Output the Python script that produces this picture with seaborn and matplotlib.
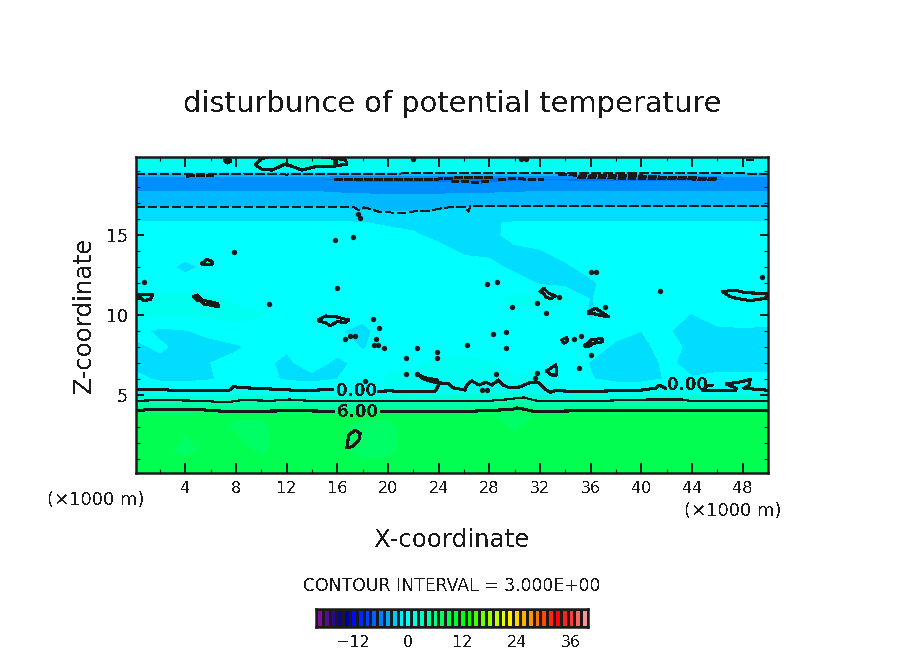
import numpy as np
import matplotlib
matplotlib.use('Agg')
import matplotlib.pyplot as plt
from matplotlib.colors import LinearSegmentedColormap
import seaborn as sns

# Field: one row per height, one value per x position
x_grid = [0, 2, 4, 6, 8, 10, 12, 14, 16, 18, 20, 22, 24, 26, 28, 30, 32, 34, 36, 38, 40, 42, 44, 46, 48, 50]
z_grid = [0.125, 1.5, 3, 3.7, 3.98, 4.6, 5.25, 6, 7, 8, 9, 10, 11, 12, 13, 14, 15, 15.75, 16.0, 16.7,
          17.3, 17.8, 18.2, 18.5, 18.85, 19.05, 19.4, 19.875]
theta = [
    [8.2, 8.2, 8.2, 8.2, 8.2, 8.2, 8.2, 8.2, 8.2, 8.2, 8.2, 8.2, 8.2, 8.2, 8.2, 8.2, 8.2, 8.2, 8.2, 8.2, 8.2, 8.2, 8.2, 8.2, 8.2, 8.2],
    [8.0, 7.8, 7.2, 7.8, 8.0, 7.3, 8.0, 8.0, 7.8, 7.2, 7.2, 8.0, 8.0, 8.0, 8.0, 7.8, 8.0, 8.0, 8.0, 8.0, 8.0, 8.0, 8.0, 8.0, 8.0, 8.0],
    [7.9, 7.8, 7.6, 7.9, 7.3, 7.3, 7.9, 7.9, 7.6, 7.3, 7.3, 7.9, 7.9, 7.9, 7.8, 7.4, 7.9, 7.9, 7.9, 7.9, 7.9, 7.9, 7.9, 7.9, 7.9, 7.9],
    [7.6, 7.6, 7.6, 7.6, 7.6, 7.6, 7.6, 7.6, 7.6, 7.6, 7.6, 7.6, 7.6, 7.6, 7.6, 7.0, 7.6, 7.6, 7.6, 7.6, 7.6, 7.6, 7.6, 7.6, 7.6, 7.6],
    [6.0, 6.3, 6.3, 6.0, 6.0, 6.0, 6.0, 6.0, 6.0, 6.0, 6.0, 6.0, 6.0, 6.0, 6.0, 6.6, 6.0, 6.0, 6.0, 6.0, 6.0, 6.0, 6.0, 6.0, 6.0, 6.0],
    [3.0, 3.0, 3.0, 3.0, 3.0, 3.2, 3.0, 3.0, 3.0, 3.0, 3.0, 3.0, 3.0, 3.0, 3.0, 3.6, 3.0, 3.0, 3.0, 3.0, 3.2, 3.2, 3.0, 3.0, 3.0, 3.0],
    [0.0, 0.0, 0.0, 0.0, 0.3, 0.0, 0.0, 0.0, 0.0, 0.0, 0.0, 0.0, 0.3, 0.6, 0.8, 0.8, 0.3, 0.0, 0.0, 0.0, 0.0, 0.2, 0.2, 0.0, 0.4, 0.0],
    [-1.0, -1.8, -2.0, -1.6, -1.0, -1.0, -1.7, -2.0, -1.5, -0.8, 0.2, 0.4, 0.5, 0.5, 0.4, 0.4, 0.3, -0.2, -1.4, -2.0, -2.0, -1.4, -1.4, -1.0, -1.0, -1.0],
    [-2.0, -2.0, -2.2, -1.5, -1.0, -1.2, -1.8, -0.8, -1.9, -1.0, -0.5, -0.2, 0.2, 0.3, 0.2, -1.5, -0.3, -0.6, -1.6, -2.2, -2.2, -1.2, -2.0, -2.2, -2.2, -2.2],
    [-1.9, -1.2, -2.2, -2.2, -1.7, -1.0, -1.3, -0.8, -0.8, -1.6, -0.9, -0.6, -0.4, -0.4, -1.5, -0.9, -0.5, -0.8, -0.8, -1.8, -1.9, -0.9, -1.9, -2.2, -2.2, -2.2],
    [-0.9, -1.9, -1.6, -0.9, -0.6, -0.4, -0.5, -1.0, -1.4, -1.8, -0.9, -0.7, -0.7, -0.7, -0.8, -0.9, -0.9, -0.9, -1.0, -1.0, -1.5, -1.4, -1.9, -1.9, -1.7, -1.7],
    [0.3, 0.2, 0.2, 0.2, 0.4, 0.1, -0.4, -0.6, -0.8, -1.2, -0.8, -0.6, -0.4, -0.4, -0.2, -0.4, -0.2, -0.5, -1.7, -0.8, -0.7, -0.9, -1.6, -0.6, -0.8, -1.0],
    [0.3, 0.3, 0.3, 0.2, -0.2, -0.7, -0.8, -0.9, -0.8, -0.8, -0.6, -0.5, -0.5, -0.3, -0.2, 0.2, 0.3, 0.2, -1.6, -0.6, -0.8, -0.8, -0.6, -0.2, 0.2, 0.2],
    [-0.8, -0.7, -0.7, -0.7, -0.7, -0.6, -0.6, -0.7, -0.7, -0.7, -0.7, -0.6, -0.3, -0.2, -0.3, -0.6, -1.7, -2.0, -1.8, -0.6, -0.7, -0.7, -0.7, -0.7, -0.7, -0.7],
    [-0.7, -0.8, -2.0, -0.9, -0.7, -0.7, -0.7, -0.7, -0.7, -0.7, -0.7, -0.7, -0.7, -0.7, -0.9, -2.0, -2.0, -1.8, -0.8, -0.7, -1.5, -0.8, -0.7, -0.7, -0.7, -0.7],
    [-0.7, -0.7, -0.7, -0.7, -0.7, -0.7, -0.7, -0.7, -0.7, -0.7, -0.7, -0.7, -0.9, -1.8, -2.0, -1.9, -1.6, -0.8, -0.7, -0.7, -0.7, -0.7, -0.7, -0.7, -0.7, -0.7],
    [-0.7, -0.7, -0.7, -0.7, -0.7, -0.7, -0.7, -0.7, -0.7, -0.8, -0.8, -1.3, -2.0, -2.1, -2.0, -0.9, -0.7, -0.7, -0.7, -0.7, -0.7, -0.7, -0.7, -0.7, -0.7, -0.7],
    [-0.9, -0.9, -0.9, -0.9, -0.9, -0.9, -0.9, -0.9, -0.9, -1.4, -1.8, -1.9, -2.0, -2.0, -1.8, -1.2, -0.9, -0.9, -0.9, -0.9, -0.9, -0.9, -0.9, -0.9, -0.9, -0.9],
    [-2.2, -2.2, -2.2, -2.2, -2.2, -2.2, -2.2, -2.2, -2.2, -2.3, -2.4, -2.5, -2.4, -2.3, -2.2, -2.2, -2.2, -2.2, -2.2, -2.2, -2.2, -2.2, -2.2, -2.2, -2.2, -2.2],
    [-3.0, -3.0, -3.0, -3.0, -3.0, -3.0, -3.0, -3.0, -3.0, -3.2, -3.3, -3.3, -3.2, -3.0, -3.0, -3.0, -3.0, -3.0, -3.0, -3.0, -3.0, -3.0, -3.0, -3.0, -3.0, -3.0],
    [-3.8, -3.8, -3.8, -3.8, -3.8, -3.8, -3.8, -3.8, -3.9, -4.0, -4.1, -4.1, -4.0, -3.9, -3.8, -3.8, -3.8, -3.8, -3.8, -3.8, -3.8, -3.8, -3.8, -3.8, -3.8, -3.8],
    [-4.6, -4.6, -4.6, -4.6, -4.6, -4.6, -4.6, -4.6, -4.8, -4.9, -5.0, -5.0, -5.0, -4.9, -4.9, -4.8, -4.6, -4.6, -4.6, -4.6, -4.6, -4.6, -4.6, -4.6, -4.6, -4.6],
    [-5.3, -5.3, -5.3, -5.3, -5.3, -5.3, -5.3, -5.3, -5.6, -5.7, -5.8, -5.8, -5.8, -5.8, -5.7, -5.5, -5.4, -5.4, -5.5, -5.5, -5.5, -5.5, -5.5, -5.4, -5.3, -5.3],
    [-5.8, -5.9, -6.0, -6.0, -5.9, -5.8, -5.8, -5.9, -6.4, -6.6, -6.7, -6.7, -6.7, -6.8, -6.8, -6.5, -6.3, -6.4, -6.6, -6.7, -6.7, -6.7, -6.7, -6.3, -5.9, -5.8],
    [-3.0, -3.0, -3.0, -3.0, -3.0, -3.0, -3.0, -3.0, -3.0, -3.0, -3.0, -3.0, -3.0, -3.0, -3.0, -3.0, -3.0, -3.0, -3.0, -3.0, -3.0, -3.0, -3.0, -3.0, -3.0, -3.0],
    [-0.2, -0.2, -0.2, -0.2, -0.2, -0.2, -0.2, -0.2, -0.2, -0.2, -0.2, -0.2, -0.2, -0.2, -0.2, -0.2, -0.2, -0.2, -0.2, -0.2, -0.2, -0.2, -0.2, -0.2, -0.2, -0.2],
    [0.6, 0.6, 0.6, 0.6, 0.6, 1.0, 1.9, 2.0, 1.6, 0.6, 0.6, 0.6, 0.6, 0.6, 0.6, 0.6, 0.6, 0.6, 0.6, 0.6, 0.6, 0.6, 0.6, 0.6, 0.6, 0.6],
    [0.7, 0.7, 0.7, 0.7, 0.7, 1.0, 2.0, 2.0, 1.7, 0.7, 0.7, 0.7, 0.7, 0.7, 0.7, 0.7, 0.7, 0.7, 0.7, 0.7, 0.7, 0.7, 0.7, 0.7, 0.7, 0.7],
]

# Contour lines
zero_left_x = [0.1, 0.97, 1.63, 3.74, 7.42, 7.81, 8.47, 11.4, 13.2, 15.6]
zero_left_z = [5.31, 5.37, 5.35, 5.27, 5.27, 5.52, 5.46, 5.35, 5.27, 5.35]
zero_mid_x = [19.26, 20.3, 20.57, 23.7, 24.0, 23.9, 22.9, 22.4, 22.7, 23.5, 24.0, 24.8, 25.2, 25.6, 26.1, 26.2, 26.6, 27.2,
              27.7, 28.2, 28.7, 29.1, 29.5, 30.3, 31.2, 31.9, 32.3, 32.8, 33.2, 35.3, 40.0, 41.1, 41.4, 41.9]
zero_mid_z = [5.23, 5.27, 5.21, 5.21, 5.62, 5.94, 6.08, 6.25, 6.04, 5.83, 5.77, 5.69, 5.42, 5.38, 5.31, 5.62, 5.88, 5.62,
              5.8, 5.62, 5.94, 5.62, 5.48, 5.48, 5.77, 5.77, 5.42, 5.17, 5.27, 5.21, 5.31, 5.42, 5.62, 5.42]
zero_right_x = [45.6, 45.2, 44.8, 47.4, 47.5, 46.7, 47.9, 48.6, 48.5, 48.1, 49.8, 50.0]
zero_right_z = [5.62, 5.56, 5.27, 5.27, 5.42, 5.69, 5.83, 5.98, 5.62, 5.42, 5.31, 5.31]
three_x = [0.1, 2.16, 5.3, 7.16, 8.47, 10.8, 12.2, 13.7, 25.6, 27.4, 29.3, 30.7, 31.5, 32.1, 35.3, 38.7, 40.6, 43.2, 44.0, 49.8, 50.0]
three_z = [4.64, 4.68, 4.64, 4.54, 4.68, 4.64, 4.72, 4.64, 4.6, 4.6, 4.72, 4.85, 4.68, 4.6, 4.6, 4.68, 4.72, 4.72, 4.62, 4.64, 4.64]
six_left_x = [0.1, 1.63, 4.5, 7.42, 12.7, 15.7]
six_left_z = [4.02, 4.12, 4.12, 3.96, 4.02, 3.98]
six_right_x = [19.5, 25.6, 27.7, 29.8, 30.2, 30.8, 31.6, 37.9, 43.2, 48.5, 50.0]
six_right_z = [3.98, 3.96, 4.02, 4.1, 4.19, 4.1, 3.96, 4.06, 4.02, 4.02, 4.02]

loops = [
    ([16.76, 16.9, 17.4, 17.8, 17.7, 17.15, 16.76], [1.77, 2.5, 2.81, 2.6, 2.19, 1.77, 1.7]),
    ([9.53, 10.05, 10.84, 11.9, 13.2, 14.26, 15.84, 16.63, 16.76, 15.84, 14.26, 13.2, 11.9, 10.84, 10.05, 9.53],
     [19.38, 19.79, 19.92, 19.92, 19.92, 19.92, 19.79, 19.69, 19.44, 19.31, 19.27, 19.06, 19.44, 19.06, 19.1, 19.38]),
    ([15.84, 15.84], [19.79, 19.31]),
    ([7.1, 7.34, 7.6, 7.34, 7.1], [19.64, 19.78, 19.64, 19.5, 19.64]),
    ([5.3, 5.7, 6.1, 6.1, 5.3, 5.3], [13.23, 13.48, 13.35, 13.17, 13.17, 13.23]),
    ([0.1, 1.42, 1.24, 0.71, 0.45, 0.1], [11.31, 11.31, 10.98, 10.9, 11.1, 11.04]),
    ([4.66, 4.92, 5.3, 6.5, 6.63, 5.45, 5.18, 4.92, 4.66], [11.15, 11.25, 10.94, 10.73, 10.52, 10.69, 10.9, 10.9, 11.15]),
    ([14.5, 15.05, 15.84, 16.36, 16.9, 16.63, 15.97, 15.45, 15.05, 14.5], [9.69, 9.94, 9.9, 9.79, 9.69, 9.54, 9.58, 9.33, 9.52, 9.62]),
    ([46.4, 47.4, 48.2, 49.8, 50.0, 49.8, 48.6, 47.5, 47.0, 46.4], [11.46, 11.56, 11.39, 11.35, 11.35, 11.04, 10.9, 11.04, 11.15, 11.46]),
    ([32.0, 32.3, 32.7, 33.2, 32.9, 32.5, 32.3, 32.0], [11.46, 11.67, 11.35, 11.2, 11.04, 11.08, 11.35, 11.46]),
    ([35.8, 36.4, 37.0, 37.4, 36.9, 36.4, 35.8, 35.8], [10.2, 10.42, 10.1, 9.9, 9.95, 10.06, 10.1, 10.2]),
    ([33.7, 34.1, 34.2, 33.9, 33.7], [8.44, 8.6, 8.4, 8.23, 8.44]),
    ([35.5, 36.0, 36.9, 36.94, 36.2, 35.8, 35.5], [8.06, 8.44, 8.54, 8.33, 8.23, 8.02, 8.06]),
    ([32.5, 33.25, 33.3, 32.9, 32.5], [6.5, 6.88, 6.25, 6.25, 6.5]),
]

# Negative contours, dashed
dash_top_x = [0.1, 6, 9.5, 12, 14.5, 16, 20, 26, 36, 50]
dash_top_z = [18.81, 18.8, 18.82, 18.78, 18.82, 18.84, 18.84, 18.86, 18.87, 18.84]
dash_low_x = [0.1, 17.3, 17.55, 17.8, 18.07, 18.7, 19.4, 20.6, 21.4, 22.15, 23.2, 24.4, 25.6, 26.1, 26.36, 26.5, 36, 50]
dash_low_z = [16.77, 16.77, 16.6, 16.56, 16.73, 16.6, 16.42, 16.4, 16.36, 16.5, 16.5, 16.7, 16.77, 16.77, 16.46, 16.8, 16.8, 16.8]
heavy_dash = [
    ([4.1, 5.0, 6.2], [18.68, 18.72, 18.72]),
    ([15.8, 18, 21, 24, 26, 28, 28.3], [18.48, 18.46, 18.48, 18.5, 18.6, 18.62, 18.55]),
    ([25.0, 27.0, 28.0], [18.36, 18.3, 18.33]),
    ([28.7, 30, 32.3], [18.48, 18.52, 18.45]),
    ([33.5, 36, 39, 42, 46], [18.79, 18.7, 18.74, 18.6, 18.54]),
    ([35, 38, 41, 44, 46], [18.62, 18.56, 18.55, 18.5, 18.45]),
    ([48.3, 48.9], [19.66, 19.66]),
]

# Tiny closed contours, too small to show a hole
dots_x = [7.81, 15.84, 17.2, 15.97, 10.58, 0.76, 17.6, 17.76, 22.0, 30.5, 30.9, 36.0, 36.4, 28.6, 27.8, 49.5, 41.5, 29.8, 31.8, 32.5,
          33.5, 37.1, 18.8, 19.26, 16.6, 17.0, 17.4, 19.05, 18.86, 19.2, 19.65, 22.3, 23.9, 23.9, 21.4, 21.4, 22.3, 18.2,
          28.3, 29.3, 26.2, 29.3, 34.7, 35.2, 36.0, 35.1, 28.5, 27.4, 27.8, 31.75, 31.6]
dots_z = [13.96, 14.69, 14.9, 11.7, 10.67, 12.08, 16.29, 16.08, 19.75, 19.73, 19.73, 12.7, 12.7, 12.08, 11.92, 12.4, 11.5, 10.52, 10.73, 10.1,
          11.14, 10.52, 9.73, 9.17, 8.5, 8.71, 8.71, 8.48, 8.13, 8.13, 7.92, 7.92, 7.71, 7.29, 7.29, 6.31, 6.31, 5.89,
          8.81, 8.94, 8.13, 7.92, 8.48, 8.69, 7.5, 6.67, 6.31, 5.31, 5.31, 6.4, 6.05]

# Colour scale
scale_values = [-20, -17, -14, -12.5, -6, -1, 0, 6, 6.75, 8.25, 13, 17, 22, 28, 33, 37, 40]
scale_colors = ['#8a10a0', '#300a90', '#000088', '#0000ff', '#0080ff', '#00ffff', '#00ffff', '#00ff80', '#00ff68', '#00ff50',
                '#00ff00', '#80ff00', '#ffff00', '#ff8000', '#ff0000', '#ff5050', '#ffb0b0']
bar_ticks = [-12, 0, 12, 24, 36]

sns.set_theme(style='white')
plt.rcParams['font.family'] = ['DejaVu Sans']
plt.rcParams['text.antialiased'] = False
plt.rcParams['lines.antialiased'] = False

positions = [(v - scale_values[0]) / (scale_values[-1] - scale_values[0]) for v in scale_values]
cmap = LinearSegmentedColormap.from_list('rainbow_scale', list(zip(positions, scale_colors)), N=256)

W, H = 904, 654
fig = plt.figure(figsize=(W / 100, H / 100), dpi=100, facecolor='white')


def px_text(px, py, s, size, **kw):
    fig.text(px / W, 1 - py / H, s, fontsize=size, ha=kw.pop('ha', 'center'), va='center', color='k', **kw)


def line(ax, x, z, lw=1.5, ls='-'):
    sns.lineplot(x=x, y=z, sort=False, estimator=None, color='k', linewidth=lw, linestyle=ls, legend=False, ax=ax)


ax = fig.add_axes([136 / W, 1 - 473 / H, 632 / W, 316 / H])
levels = np.arange(-19.5, 40.6, 1.5)
mids = (levels[:-1] + levels[1:]) / 2
band_colors = [cmap((m + 20) / 60) for m in mids]
ax.contourf(x_grid, z_grid, theta, levels=levels, colors=band_colors, antialiased=False)

for x, z in [(zero_left_x, zero_left_z), (zero_mid_x, zero_mid_z), (zero_right_x, zero_right_z),
             (six_left_x, six_left_z), (six_right_x, six_right_z)]:
    line(ax, x, z)
line(ax, three_x, three_z, lw=0.8)
for x, z in loops:
    line(ax, x, z)
line(ax, dash_top_x, dash_top_z, lw=0.8, ls=(0, (8, 3)))
line(ax, dash_low_x, dash_low_z, lw=0.8, ls=(0, (8, 3)))
for x, z in heavy_dash:
    line(ax, x, z, lw=1.6, ls=(0, (3.5, 1)))
sns.scatterplot(x=dots_x, y=dots_z, color='k', s=15, linewidth=0, ax=ax, legend=False)

ax.text(17.5, 5.25, '0.00', fontsize=12, fontweight='bold', ha='center', va='center', color='k')
ax.text(17.55, 3.94, '6.00', fontsize=12, fontweight='bold', ha='center', va='center', color='k')
ax.text(43.65, 5.62, '0.00', fontsize=12, fontweight='bold', ha='center', va='center', color='k')

ax.set_xlim(0.1, 50)
ax.set_ylim(0.125, 19.875)
ax.set_xticks(np.arange(4, 49, 4))
ax.set_xticks(np.arange(2, 50, 4), minor=True)
ax.set_yticks([5, 10, 15])
ax.set_yticks([z for z in range(1, 20) if z % 5], minor=True)
ax.set_axisbelow(False)
ax.tick_params(which='major', direction='in', length=7, width=1.4, top=True, right=True, bottom=True, left=True,
               labelsize=11.5, color='k', labelcolor='k', pad=6)
ax.tick_params(axis='y', which='major', length=6, labelsize=12.5, pad=6)
ax.tick_params(which='minor', direction='in', length=3, width=0.8, top=True, right=True, bottom=True, left=True, color='k')
ax.set_xlabel('')
ax.set_ylabel('')
for s in ax.spines.values():
    s.set_visible(True)
    s.set_color('k')
    s.set_linewidth(1.8)

# Colour bar, one heatmap cell per contour band
cell_mids = [-19.5 + 1.5 * i for i in range(40)]
bar = fig.add_axes([316 / W, 1 - 627 / H, 272 / W, 18 / H])
sns.heatmap([cell_mids], cmap=cmap, vmin=-20, vmax=40, cbar=False, linewidths=1.0, linecolor='k', ax=bar, square=False)
bar.set_yticks([])
bar.set_xticks([(v + 20.25) / 1.5 for v in bar_ticks])
bar.set_xticklabels(['\u221212', '0', '12', '24', '36'], rotation=0, fontsize=11.5, color='k')
bar.tick_params(axis='x', length=0, pad=6)
for s in bar.spines.values():
    s.set_visible(True)
    s.set_color('k')
    s.set_linewidth(1.8)

px_text(452, 104, 'disturbunce of potential temperature', 20.8)
px_text(84, 315, 'Z-coordinate', 17.6, rotation=90)
px_text(452, 540, 'X-coordinate', 17.6)
px_text(96, 500, '(\u00d71000 m)', 13)
px_text(733, 511, '(\u00d71000 m)', 13)
px_text(452, 586, 'CONTOUR INTERVAL = 3.000E+00', 12.4)

fig.savefig('out.png', dpi=100)
